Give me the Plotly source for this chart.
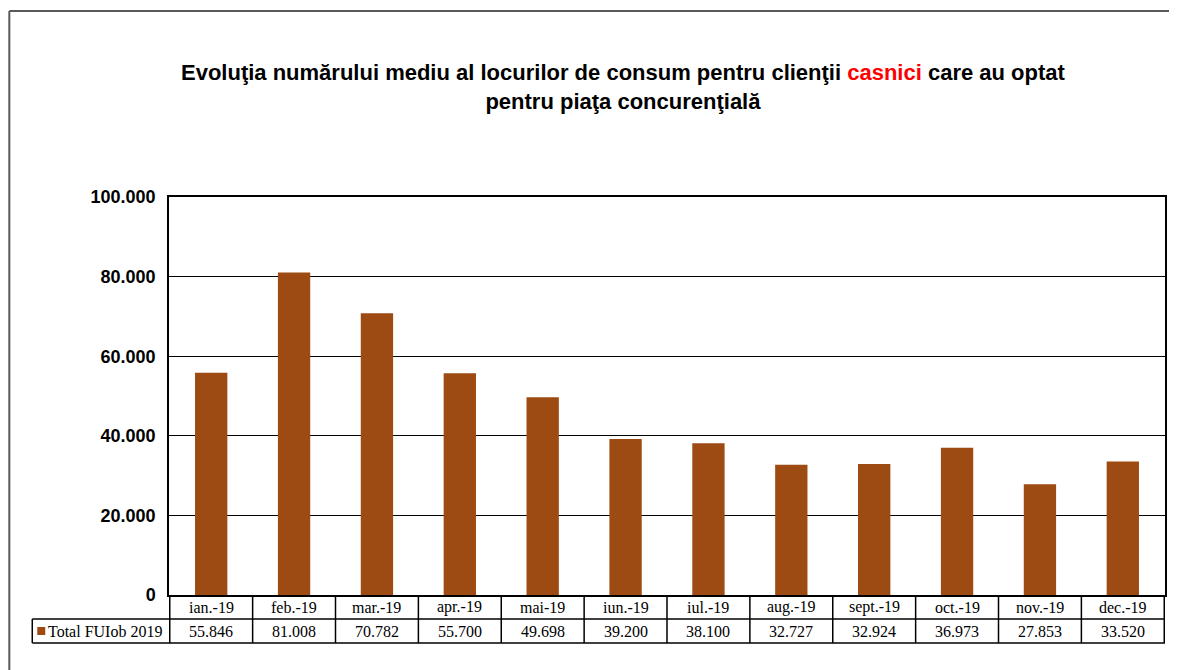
import plotly.graph_objects as go

months = ["ian.-19", "feb.-19", "mar.-19", "apr.-19", "mai-19", "iun.-19",
          "iul.-19", "aug.-19", "sept.-19", "oct.-19", "nov.-19", "dec.-19"]
fuiob_2019 = [55846, 81008, 70782, 55700, 49698, 39200,
              38100, 32727, 32924, 36973, 27853, 33520]
series_name = "Total FUIob 2019"

OFF = 8  # page body margin in the browser
W, H = 1177 - OFF, 670 - OFF
L, R, T, B = 169, 1167, 197, 595   # plot area in screen pixels
bar_colour = "#9E4A13"


def px_x(x):
    return (x - L) / (R - L)


def px_y(y):
    return (B - y) / (B - T)


def fmt(v):
    return f"{v:,}".replace(",", ".")


fig = go.Figure(go.Bar(
    x=months, y=fuiob_2019, marker_color=bar_colour,
    marker_line_width=0, name=series_name,
))

shapes = []
annotations = []

# outer frame (left + top)
frame = dict(color="#595959", width=2)
shapes.append(dict(type="line", xref="paper", yref="paper",
                   x0=px_x(9), x1=px_x(9), y0=px_y(11), y1=px_y(700), line=frame))
shapes.append(dict(type="line", xref="paper", yref="paper",
                   x0=px_x(9), x1=px_x(1200), y0=px_y(11), y1=px_y(11), line=frame))

# data table under the axis
row_mid, row_bot = px_y(619), px_y(643)
tbl = dict(color="black", width=1.5)
shapes.append(dict(type="line", xref="paper", yref="paper",
                   x0=px_x(32), x1=1, y0=row_mid, y1=row_mid, line=tbl))
shapes.append(dict(type="line", xref="paper", yref="paper",
                   x0=px_x(32), x1=1, y0=row_bot, y1=row_bot, line=tbl))
shapes.append(dict(type="line", xref="paper", yref="paper",
                   x0=px_x(32), x1=px_x(32), y0=row_mid, y1=row_bot, line=tbl))
for i in range(len(months) + 1):
    shapes.append(dict(type="line", xref="x", yref="paper",
                       x0=i - 0.5, x1=i - 0.5, y0=0, y1=row_bot, line=tbl))

# legend key in the table
shapes.append(dict(type="rect", xref="paper", yref="paper",
                   x0=px_x(37), x1=px_x(45), y0=px_y(627), y1=px_y(635),
                   fillcolor=bar_colour, line_width=0))
tfont = dict(family="Liberation Serif, Times New Roman, serif", size=16, color="black")
annotations.append(dict(xref="paper", yref="paper", x=px_x(46), y=px_y(631),
                        text=series_name, showarrow=False, xanchor="left",
                        yanchor="middle", font=tfont))
for m, v in zip(months, fuiob_2019):
    annotations.append(dict(xref="x", yref="paper", x=m, y=px_y(607), text=m,
                            showarrow=False, yanchor="middle", font=tfont))
    annotations.append(dict(xref="x", yref="paper", x=m, y=px_y(631), text=fmt(v),
                            showarrow=False, yanchor="middle", font=tfont))

# title
annotations.append(dict(
    xref="paper", yref="paper", x=px_x(624), y=px_y(87),
    text="Evoluţia numărului mediu al locurilor de consum pentru clienţii "
         "<span style='color:#FF0000'>casnici</span> care au optat<br>"
         "pentru piaţa concurenţială",
    showarrow=False, xanchor="center", yanchor="middle",
    font=dict(family="Liberation Sans, Arial, sans-serif", size=22, color="black",
              weight="bold"),
))

fig.update_layout(
    width=W, height=H,
    margin=dict(l=L - OFF, r=W - (R - OFF), t=T - OFF, b=H - (B - OFF)),
    plot_bgcolor="white", paper_bgcolor="white",
    showlegend=False, bargap=0.61,
    separators=",.",
    shapes=shapes, annotations=annotations,
)
fig.update_xaxes(showticklabels=False, ticks="", showgrid=False,
                 showline=True, linecolor="black", linewidth=1.5, mirror=True)
fig.update_yaxes(range=[0, 100000], dtick=20000, tickformat=",.0f",
                 showgrid=True, gridcolor="black", gridwidth=1,
                 showline=True, linecolor="black", linewidth=1.5, mirror=True,
                 ticks="", ticklabelstandoff=8, zeroline=False,
                 tickfont=dict(family="Liberation Sans, Arial, sans-serif", size=18,
                               color="black", weight="bold"))

fig.write_html("out.html")
